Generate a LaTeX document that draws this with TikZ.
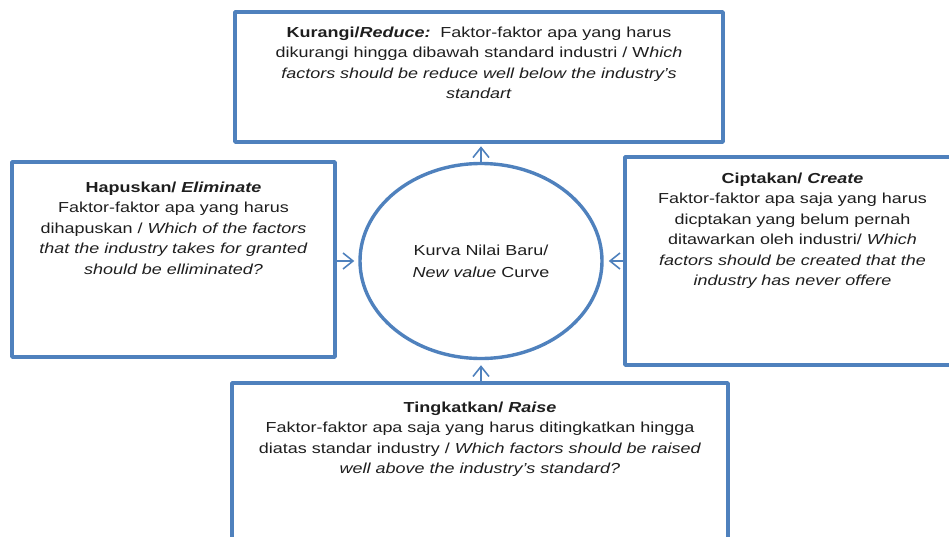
\documentclass[tikz,border=0pt]{standalone}
\usepackage{fontspec}
\setmainfont{Liberation Sans}[FakeStretch=1.24]
\usetikzlibrary{arrows.meta,shapes.geometric}
\definecolor{biru}{RGB}{79,129,189}
\definecolor{tinta}{RGB}{30,30,30}
\begin{document}
\begin{tikzpicture}[x=1pt,y=-1pt,line join=round,
	kotak/.style={draw=biru,line width=3.6pt,rectangle,inner sep=0pt},
	teks/.style={anchor=north,align=center,inner sep=0pt,text=tinta,font=\fontsize{14.5pt}{20.5pt}\selectfont},
	panah/.style={draw=biru,line width=1.6pt,-{Straight Barb[length=10pt,width=16pt]}}]
	\def\W{949} \def\H{537} % ukuran gambar
	\useasboundingbox (0,0) rectangle (\W,\H);
	\clip (0,0) rectangle (\W,\H);
	% kotak-kotak
	\node[kotak,minimum width=488pt,minimum height=130pt] (kurangi) at (479,77) {};
	\node[kotak,minimum width=323pt,minimum height=195pt] (hapus) at (173.5,259.5) {};
	\node[kotak,minimum width=335pt,minimum height=208pt] (cipta) at (792.5,261) {};
	\node[kotak,minimum width=496pt,minimum height=167pt] (tingkat) at (480,466.5) {};
	\node[ellipse,draw=biru,line width=3.4pt,minimum width=242pt,minimum height=195pt,inner sep=0pt,
		align=center,text=tinta,font=\fontsize{14.5pt}{22pt}\selectfont] (kurva) at (481,261)
		{Kurva Nilai Baru/\\ \textit{New value} Curve};
	% teks
	\node[teks] (t-kurangi) at (479,26.4) {\textbf{Kurangi/\textit{Reduce:}}\ \ Faktor-faktor apa yang harus\\
		dikurangi hingga dibawah standard industri / W\textit{hich}\\
		\textit{factors should be reduce well below the industry's}\\
		\textit{standart}};
	\node[teks] (t-hapus) at (173.5,181.4) {\textbf{Hapuskan/ \textit{Eliminate}}\\
		Faktor-faktor apa yang harus\\
		dihapuskan / \textit{Which of the factors}\\
		\textit{that the industry takes for granted}\\
		\textit{should be elliminated?}};
	\node[teks] (t-cipta) at (792.5,172.4) {\textbf{Ciptakan/ \textit{Create}}\\
		Faktor-faktor apa saja yang harus\\
		dicptakan yang belum pernah\\
		ditawarkan oleh industri/ \textit{Which}\\
		\textit{factors should be created that the}\\
		\textit{industry has never offere}};
	\node[teks] (t-tingkat) at (480,401.4) {\textbf{Tingkatkan/ \textit{Raise}}\\
		Faktor-faktor apa saja yang harus ditingkatkan hingga\\
		diatas standar industry / \textit{Which factors should be raised}\\
		\textit{well above the industry's standard?}};
	% panah
	\draw[panah,shorten >=2.5pt] (kurva.north) -- (kurva.north |- kurangi.south);
	\draw[panah,shorten >=4pt] (hapus.east |- kurva.west) -- (kurva.west);
	\draw[panah,shorten >=5pt] (cipta.west |- kurva.east) -- (kurva.east);
	\draw[panah,shorten >=5pt] (kurva.south |- tingkat.north) -- (kurva.south);
\end{tikzpicture}
\end{document}
